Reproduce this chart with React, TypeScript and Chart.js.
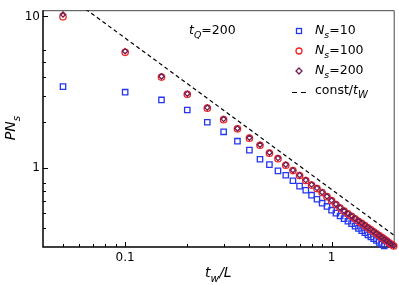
import React, { useEffect, useRef } from 'react';
import { Chart, registerables } from 'chart.js';

Chart.register(...registerables);

// t_w / L values
const tw = [
  0.05, 0.1, 0.15, 0.2, 0.25, 0.3, 0.35, 0.4, 0.45, 0.5,
  0.55, 0.6, 0.65, 0.7, 0.75, 0.8, 0.85, 0.9, 0.95, 1.0,
  1.05, 1.1, 1.15, 1.2, 1.25, 1.3, 1.35, 1.4, 1.45, 1.5,
  1.55, 1.6, 1.65, 1.7, 1.75, 1.8, 1.85, 1.9, 1.95, 2.0,
];
// P*N_s for N_s = 10
const ns10 = [
  3.44, 3.16, 2.81, 2.41, 2.0, 1.73, 1.5, 1.31, 1.14, 1.05,
  0.955, 0.893, 0.822, 0.757, 0.711, 0.66, 0.62, 0.584, 0.556, 0.525,
  0.502, 0.481, 0.462, 0.444, 0.428, 0.412, 0.398, 0.385, 0.373, 0.361,
  0.35, 0.34, 0.331, 0.322, 0.313, 0.305,
];
// P*N_s for N_s = 100
const ns100 = [
  9.95, 5.8, 3.98, 3.06, 2.48, 2.08, 1.81, 1.57, 1.41, 1.25,
  1.15, 1.04, 0.96, 0.89, 0.825, 0.77, 0.73, 0.686, 0.645, 0.607,
  0.572, 0.543, 0.517, 0.497, 0.478, 0.461, 0.444, 0.43, 0.416, 0.402,
  0.39, 0.378, 0.367, 0.357, 0.347, 0.338, 0.329, 0.32, 0.312, 0.305,
];
// P*N_s for N_s = 200
const ns200 = [
  10.3, 5.9, 4.02, 3.09, 2.5, 2.1, 1.82, 1.58, 1.42, 1.26,
  1.16, 1.05, 0.965, 0.895, 0.83, 0.775, 0.735, 0.69, 0.648, 0.61,
  0.575, 0.546, 0.52, 0.5, 0.481, 0.463, 0.447, 0.432, 0.418, 0.404,
  0.392, 0.38, 0.369, 0.358, 0.348, 0.339, 0.33, 0.321, 0.313, 0.306,
];
// const / t_w reference line
const constValue = 0.72;
const constLineX = [0.05, 2.0];

const xTickLabels = [0.1, 1];
const yTickLabels = [1, 10];
const xMinorTicks = [0.05, 0.06, 0.07, 0.08, 0.09, 0.2, 0.3, 0.4, 0.5, 0.6, 0.7, 0.8, 0.9, 2];
const yMinorTicks = [0.4, 0.5, 0.6, 0.7, 0.8, 2, 3, 4, 5, 6];

const FONT = "'DejaVu Sans', 'Liberation Sans', Arial, sans-serif";
const BLUE = '#2436f0';
const RED = '#f02424';
const PURPLE = '#6b1d55';

type Part = { t: string; it?: boolean; sub?: boolean; subScale?: number };

function setFont(ctx: CanvasRenderingContext2D, p: Part, size: number) {
  const fs = p.sub ? size * (p.subScale ?? 0.75) : size;
  ctx.font = `${p.it ? 'italic ' : ''}${fs}px ${FONT}`;
}
function richWidth(ctx: CanvasRenderingContext2D, parts: Part[], size: number) {
  let w = 0;
  for (const p of parts) {
    setFont(ctx, p, size);
    w += ctx.measureText(p.t).width;
  }
  return w;
}
function drawRich(ctx: CanvasRenderingContext2D, parts: Part[], x: number, y: number, size: number) {
  let cx = x;
  ctx.textBaseline = 'alphabetic';
  ctx.textAlign = 'left';
  for (const p of parts) {
    setFont(ctx, p, size);
    ctx.fillText(p.t, cx, y + (p.sub ? size * 0.33 : 0));
    cx += ctx.measureText(p.t).width;
  }
}

const decorPlugin = {
  id: 'decor',
  beforeDatasetsDraw(chart: any) {
    const { ctx, chartArea: a, scales } = chart;
    const xs = scales.x;
    const ys = scales.y;
    ctx.save();
    // frame
    ctx.strokeStyle = '#444';
    ctx.lineWidth = 1;
    ctx.beginPath();
    ctx.moveTo(a.left, a.top + 0.5);
    ctx.lineTo(a.right + 0.5, a.top + 0.5);
    ctx.lineTo(a.right + 0.5, a.bottom);
    ctx.stroke();
    ctx.strokeStyle = '#000';
    ctx.lineWidth = 1.5;
    ctx.beginPath();
    ctx.moveTo(a.left, a.top);
    ctx.lineTo(a.left, a.bottom);
    ctx.lineTo(a.right + 1, a.bottom);
    ctx.stroke();
    // inward tick marks
    ctx.lineWidth = 1;
    ctx.strokeStyle = '#000';
    ctx.beginPath();
    const xt = (v: number, len: number) => {
      const px = Math.round(xs.getPixelForValue(v)) + 0.5;
      ctx.moveTo(px, a.bottom);
      ctx.lineTo(px, a.bottom - len);
    };
    const yt = (v: number, len: number) => {
      const py = Math.round(ys.getPixelForValue(v)) + 0.5;
      ctx.moveTo(a.left, py);
      ctx.lineTo(a.left + len, py);
    };
    xTickLabels.forEach((v) => xt(v, 5));
    xMinorTicks.forEach((v) => xt(v, 3));
    yTickLabels.forEach((v) => yt(v, 5));
    yMinorTicks.forEach((v) => yt(v, 3));
    ctx.stroke();
    ctx.restore();
  },
  afterDraw(chart: any) {
    const { ctx, chartArea: a } = chart;
    ctx.save();
    ctx.fillStyle = '#000';
    // x title
    const xt: Part[] = [
      { t: 't', it: true },
      { t: 'w', it: true, sub: true },
      { t: '/L', it: true },
    ];
    const xw = richWidth(ctx, xt, 14);
    drawRich(ctx, xt, (a.left + a.right) / 2 - xw / 2, 277, 14);
    // y title
    const yt: Part[] = [
      { t: 'PN', it: true },
      { t: 's', it: true, sub: true },
    ];
    const yw = richWidth(ctx, yt, 14);
    ctx.save();
    ctx.translate(15, 128);
    ctx.rotate(-Math.PI / 2);
    drawRich(ctx, yt, -yw / 2, 0, 14);
    ctx.restore();
    // annotation
    drawRich(ctx, [
      { t: 't', it: true },
      { t: 'Q', it: true, sub: true },
      { t: '=200' },
    ], 189, 34, 12.5);
    // legend
    const lx = 299;
    const tx = 315;
    ctx.lineWidth = 1.3;
    ctx.strokeStyle = BLUE;
    ctx.strokeRect(lx - 2.5, 31 - 2.5, 5, 5);
    drawRich(ctx, [{ t: 'N', it: true }, { t: 's', it: true, sub: true }, { t: '=10' }], tx, 34, 12.5);
    ctx.strokeStyle = RED;
    ctx.beginPath();
    ctx.arc(lx, 51, 3, 0, Math.PI * 2);
    ctx.stroke();
    drawRich(ctx, [{ t: 'N', it: true }, { t: 's', it: true, sub: true }, { t: '=100' }], tx, 54, 12.5);
    ctx.strokeStyle = PURPLE;
    ctx.beginPath();
    ctx.moveTo(lx, 71 - 3);
    ctx.lineTo(lx + 3, 71);
    ctx.lineTo(lx, 71 + 3);
    ctx.lineTo(lx - 3, 71);
    ctx.closePath();
    ctx.stroke();
    drawRich(ctx, [{ t: 'N', it: true }, { t: 's', it: true, sub: true }, { t: '=200' }], tx, 74, 12.5);
    ctx.strokeStyle = '#000';
    ctx.lineWidth = 1.2;
    ctx.beginPath();
    ctx.moveTo(292, 92.5);
    ctx.lineTo(297, 92.5);
    ctx.moveTo(301, 92.5);
    ctx.lineTo(306, 92.5);
    ctx.stroke();
    drawRich(ctx, [{ t: 'const/' }, { t: 't', it: true }, { t: 'W', it: true, sub: true, subScale: 0.8 }], tx, 94, 12.5);
    ctx.restore();
  },
};

export default function App() {
  const ref = useRef<HTMLCanvasElement | null>(null);
  useEffect(() => {
    if (!ref.current) return;
    const mk = (ys: number[]) => ys.map((y, i) => ({ x: tw[i], y }));
    const chart = new Chart(ref.current, {
      type: 'scatter',
      data: {
        datasets: [
          {
            label: 'N_s=200',
            data: mk(ns200),
            pointStyle: 'rectRot',
            pointRadius: 2.6,
            pointBorderWidth: 1.3,
            borderColor: PURPLE,
            backgroundColor: 'rgba(0,0,0,0)',
            order: 0,
            clip: false,
          },
          {
            label: 'N_s=100',
            data: mk(ns100),
            pointStyle: 'circle',
            pointRadius: 3.2,
            pointBorderWidth: 1.3,
            borderColor: RED,
            backgroundColor: 'rgba(0,0,0,0)',
            order: 1,
            clip: false,
          },
          {
            label: 'N_s=10',
            data: mk(ns10),
            pointStyle: 'rect',
            pointRadius: 3.8,
            pointBorderWidth: 1.3,
            borderColor: BLUE,
            backgroundColor: 'rgba(0,0,0,0)',
            order: 2,
            clip: false,
          },
          {
            label: 'const/t_w',
            data: constLineX.map((x) => ({ x, y: constValue / x })),
            showLine: true,
            pointRadius: 0,
            borderColor: '#000',
            borderWidth: 1.2,
            borderDash: [4, 3],
            order: 3,
          },
        ],
      },
      options: {
        responsive: false,
        animation: false,
        events: [],
        layout: { padding: { top: 2, right: 5, left: 0, bottom: 0 } },
        plugins: { legend: { display: false }, tooltip: { enabled: false } },
        scales: {
          x: {
            type: 'logarithmic',
            min: 0.04,
            max: 2,
            grid: { display: false, drawTicks: false },
            border: { display: false },
            afterBuildTicks: (s: any) => {
              s.ticks = xTickLabels.map((v) => ({ value: v }));
            },
            afterFit: (s: any) => {
              s.height = 38;
            },
            ticks: {
              autoSkip: false,
              maxRotation: 0,
              padding: 4,
              color: '#000',
              font: { family: FONT, size: 12 },
              callback: (v: any) => String(v),
            },
          },
          y: {
            type: 'logarithmic',
            min: 0.3,
            max: 11,
            grid: { display: false, drawTicks: false },
            border: { display: false },
            afterBuildTicks: (s: any) => {
              s.ticks = yTickLabels.map((v) => ({ value: v }));
            },
            afterFit: (s: any) => {
              s.width = 43;
            },
            ticks: {
              autoSkip: false,
              padding: 3,
              color: '#000',
              font: { family: FONT, size: 12 },
              callback: (v: any) => String(v),
            },
          },
        },
      },
      plugins: [decorPlugin],
    });
    return () => chart.destroy();
  }, []);
  return (
    <div style={{ position: 'absolute', left: 0, top: 0, width: 399, height: 285, background: '#fff' }}>
      <canvas ref={ref} width={399} height={285} style={{ display: 'block' }} />
    </div>
  );
}
